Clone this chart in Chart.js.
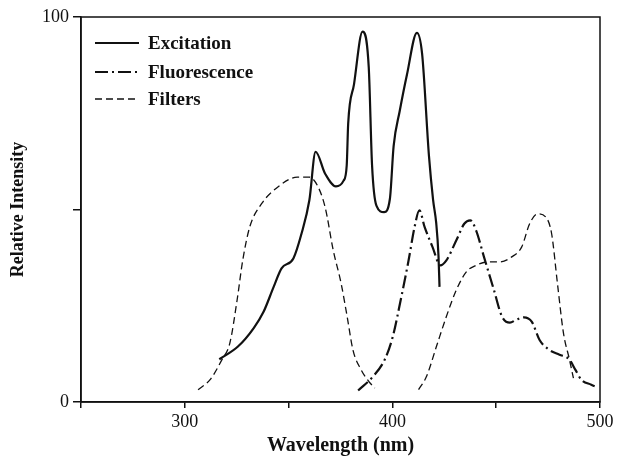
<!DOCTYPE html>
<html>
<head>
<meta charset="utf-8">
<script src="https://cdn.jsdelivr.net/npm/chart.js@4/dist/chart.umd.min.js"></script>
<style>
  html, body { margin: 0; padding: 0; background: #fff; }
  #wrap { width: 622px; height: 458px; position: relative; }
</style>
</head>
<body>
<div id="wrap"><canvas id="c" width="622" height="458"></canvas></div>
<script>
// ---- data ----
const excWavelength = [316.6, 325.6, 333.2, 338.0, 342.8, 346.6, 352.3, 356.2, 360.0, 363.0, 367.6, 372.8, 376.5, 378.0, 378.7, 381.5, 385.6, 388.6, 390.2, 392.3, 396.0, 398.8, 400.6, 403.5, 407.0, 411.8, 414.3, 417.6, 419.6, 421.1, 422.2, 422.7];
const excitation    = [11.1, 14.4, 19.2, 23.5, 29.9, 34.7, 37.3, 43.7, 52.4, 65.0, 59.3, 56.0, 57.5, 61.5, 72.3, 82.5, 96.2, 87.0, 61.5, 51.0, 49.3, 52.8, 66.5, 75.5, 85.0, 95.9, 90.5, 64.0, 52.5, 46.5, 38.0, 29.9];

const fluWavelength = [383.5, 390.6, 396.3, 400.2, 404.0, 407.8, 410.7, 413.0, 415.5, 419.3, 423.1, 426.0, 430.8, 434.6, 437.5, 440.3, 444.1, 448.9, 452.8, 456.6, 459.5, 463.3, 467.1, 470.9, 475.7, 480.5, 485.3, 488.1, 491.0, 495.8, 498.7];
const fluorescence  = [3.0, 6.6, 11.0, 17.0, 26.5, 36.8, 45.5, 49.8, 45.5, 40.3, 35.5, 36.8, 42.0, 46.3, 47.2, 44.6, 37.7, 29.1, 22.2, 20.6, 21.3, 22.0, 20.9, 16.1, 13.5, 12.3, 11.0, 8.4, 5.8, 4.5, 3.8];

const filterWavelength = [306.4, 312.2, 317.9, 321.7, 325.2, 327.9, 331.3, 337.0, 344.7, 354.2, 360.0, 363.8, 367.6, 371.5, 375.3, 378.2, 381.0, 384.9, 388.7, 391.5,
                          400.0,
                          412.6, 416.4, 421.2, 426.0, 430.8, 435.6, 440.3, 446.1, 451.8, 457.5, 462.3, 466.1, 470.0, 473.8, 476.7, 479.5, 482.4, 485.3, 487.2];
const filters          = [3.2, 5.8, 11.0, 15.3, 26.5, 36.8, 45.5, 51.5, 55.8, 58.4, 58.4, 56.3, 50.6, 39.4, 30.8, 22.2, 13.5, 8.4, 5.3, 3.6,
                          null,
                          3.2, 6.6, 14.4, 22.2, 29.1, 33.8, 35.5, 36.4, 36.4, 37.7, 40.3, 46.3, 48.9, 48.1, 43.7, 30.8, 17.9, 11.0, 6.2];

const seriesNames = ['Excitation', 'Fluorescence', 'Filters'];
const xTickLabels = [300, 400, 500];
const yTickLabels = [0, 100];

const toPoints = (xs, ys) => xs.map((x, i) => ({ x: x, y: ys[i] }));
const SERIF = '"Liberation Serif", "Times New Roman", serif';
const INK = '#111';

const framePlugin = {
  id: 'frame',
  afterDraw(chart) {
    const { ctx, chartArea: a } = chart;
    ctx.save();
    ctx.strokeStyle = INK;
    ctx.lineWidth = 1.5;
    ctx.strokeRect(a.left, a.top, a.right - a.left, a.bottom - a.top);
    ctx.restore();
  }
};

const legendPlugin = {
  id: 'insideLegend',
  afterDraw(chart) {
    const { ctx } = chart;
    const rows = [43, 72, 99];
    ctx.save();
    chart.data.datasets.forEach((ds, i) => {
      const y = rows[i];
      ctx.strokeStyle = INK;
      ctx.lineWidth = ds.borderWidth;
      ctx.setLineDash(ds.borderDash || []);
      ctx.beginPath();
      ctx.moveTo(95, y);
      ctx.lineTo(139, y);
      ctx.stroke();
      ctx.setLineDash([]);
      ctx.fillStyle = INK;
      ctx.font = 'bold 19px ' + SERIF;
      ctx.textBaseline = 'middle';
      ctx.textAlign = 'left';
      ctx.fillText(ds.label, 148, y + 1);
    });
    ctx.restore();
  }
};

new Chart(document.getElementById('c'), {
  type: 'line',
  data: {
    datasets: [
      {
        label: seriesNames[0],
        data: toPoints(excWavelength, excitation),
        borderColor: INK, borderWidth: 2.2, borderDash: [],
        pointRadius: 0, cubicInterpolationMode: 'monotone', fill: false
      },
      {
        label: seriesNames[1],
        data: toPoints(fluWavelength, fluorescence),
        borderColor: INK, borderWidth: 2.2, borderDash: [13, 4, 2, 4],
        pointRadius: 0, cubicInterpolationMode: 'monotone', fill: false
      },
      {
        label: seriesNames[2],
        data: toPoints(filterWavelength, filters),
        borderColor: INK, borderWidth: 1.3, borderDash: [7, 4],
        pointRadius: 0, cubicInterpolationMode: 'monotone', fill: false, spanGaps: false
      }
    ]
  },
  options: {
    responsive: false,
    animation: false,
    devicePixelRatio: 1,
    layout: { padding: { left: 0, top: 17, right: 22, bottom: 0 } },
    plugins: { legend: { display: false }, tooltip: { enabled: false } },
    scales: {
      x: {
        type: 'linear', min: 250, max: 500,
        afterFit(s) { s.height = 56; },
        ticks: {
          stepSize: 50, color: INK, padding: 3,
          font: { family: SERIF, size: 18 },
          maxRotation: 0,
          callback: v => xTickLabels.includes(v) ? String(v) : ''
        },
        grid: { drawOnChartArea: false, drawTicks: true, tickLength: 6, color: INK, lineWidth: 1.5 },
        border: { display: true, color: INK, width: 1.5 },
        title: {
          display: true, text: 'Wavelength (nm)', color: INK,
          font: { family: SERIF, size: 20, weight: 'bold' },
          padding: { top: 0, bottom: 0 }
        }
      },
      y: {
        type: 'linear', min: 0, max: 100,
        afterFit(s) { s.width = 81; },
        ticks: {
          stepSize: 50, color: INK, padding: 4,
          font: { family: SERIF, size: 18 },
          callback: v => yTickLabels.includes(v) ? String(v) : ''
        },
        grid: { drawOnChartArea: false, drawTicks: true, tickLength: 8, color: INK, lineWidth: 1.5 },
        border: { display: true, color: INK, width: 1.5 },
        title: {
          display: true, text: 'Relative Intensity', color: INK,
          font: { family: SERIF, size: 18, weight: 'bold' },
          padding: { top: 8, bottom: 0 }
        }
      }
    }
  },
  plugins: [framePlugin, legendPlugin]
});
</script>
</body>
</html>
